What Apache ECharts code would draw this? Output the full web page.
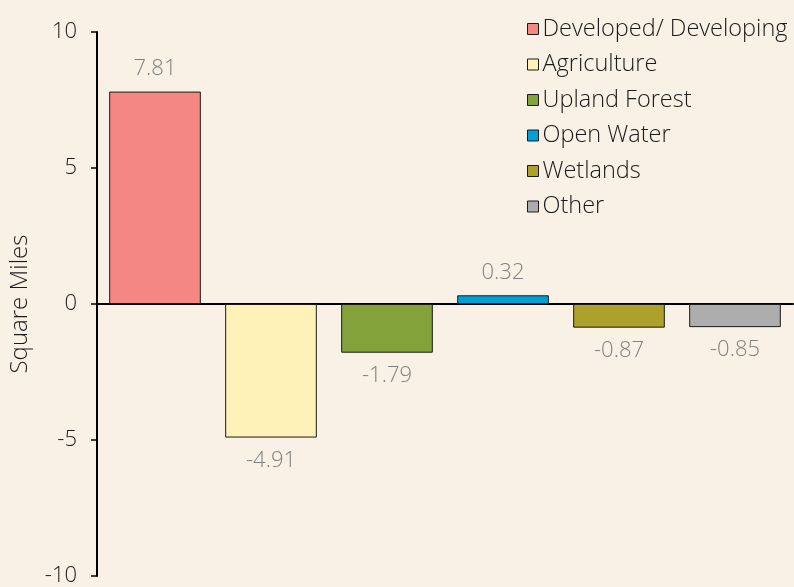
<!DOCTYPE html>
<html>
<head>
<meta charset="utf-8">
<script src="https://cdn.jsdelivr.net/npm/echarts@6/dist/echarts.min.js"></script>
<style>
  html, body { margin: 0; padding: 0; background: #F9F0E6; }
  #chart { width: 794px; height: 587px; }
</style>
</head>
<body>
<div id="chart"></div>
<script>
// land cover change values, square miles
const categories = ['Developed/ Developing', 'Agriculture', 'Upland Forest', 'Open Water', 'Wetlands', 'Other'];
const values = [7.81, -4.91, -1.79, 0.32, -0.87, -0.85];
const colors = ['#F48683', '#FFF2B8', '#83A33A', '#00A0D6', '#ADA12B', '#ADADAD'];
const yTicks = [-10, -5, 0, 5, 10];

const font = '"Open Sans", Lato, sans-serif';

const series = categories.map((name, i) => ({
    name: name,
    type: 'bar',
    stack: 'all',
    barWidth: '79%',
    itemStyle: { color: colors[i], borderColor: '#1a1a1a', borderWidth: 1 },
    label: {
        show: true,
        color: '#808080',
        fontFamily: font,
        fontWeight: 300,
        fontSize: 22,
        distance: 12,
        formatter: p => p.value.toFixed(2)
    },
    data: values.map((v, j) => j === i
        ? { value: v, label: { position: v < 0 ? 'bottom' : 'top' } }
        : '-')
}));

const chart = echarts.init(document.getElementById('chart'), null, { renderer: 'canvas' });
chart.setOption({
    backgroundColor: '#F9F0E6',
    animation: false,
    textStyle: { fontFamily: font },
    legend: {
        orient: 'vertical',
        left: 522,
        top: 12,
        itemGap: 11.5,
        itemWidth: 11,
        itemHeight: 11,
        icon: 'rect',
        itemStyle: { borderColor: '#1a1a1a', borderWidth: 1 },
        textStyle: { fontFamily: font, fontWeight: 300, fontSize: 23.5, color: '#1a1a1a', padding: [0, 0, 0, -1] },
        data: categories
    },
    grid: { left: 97, right: 1, top: 32, bottom: 11, containLabel: false, outerBoundsMode: 'none' },
    xAxis: {
        type: 'category',
        data: categories,
        axisLine: { show: true, onZero: true, lineStyle: { color: '#000', width: 2 } },
        axisTick: { show: false },
        axisLabel: { show: false },
        splitLine: { show: false }
    },
    yAxis: {
        type: 'value',
        min: yTicks[0],
        max: yTicks[yTicks.length - 1],
        interval: 5,
        name: 'Square Miles',
        nameLocation: 'middle',
        nameGap: 65,
        nameTextStyle: { fontFamily: font, fontWeight: 300, fontSize: 24, color: '#1a1a1a' },
        axisLine: { show: true, lineStyle: { color: '#000', width: 2 } },
        axisTick: { show: true, length: 6, lineStyle: { color: '#000', width: 1.5 } },
        axisLabel: { fontFamily: font, fontWeight: 300, fontSize: 22, color: '#1a1a1a', margin: 20 },
        splitLine: { show: false }
    },
    series: series
});
</script>
</body>
</html>
